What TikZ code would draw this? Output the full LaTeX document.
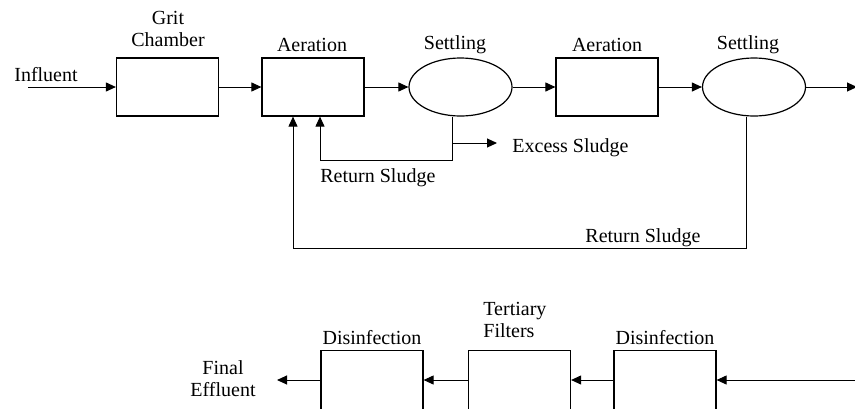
\documentclass[tikz,border=0pt]{standalone}
\usepackage{fontspec}
\setmainfont{Liberation Serif}
\usetikzlibrary{arrows.meta,shapes.geometric}
\begin{document}
\begin{tikzpicture}[x=0.5pt,y=-0.5pt,
  font=\fontsize{10}{11}\selectfont,
  proc/.style={draw,line width=0.6pt,rectangle,inner sep=0pt,minimum width=51pt,minimum height=29pt},
  settle/.style={draw,line width=0.6pt,ellipse,inner sep=0pt,minimum width=51.5pt,minimum height=29pt},
  lowbox/.style={draw,line width=0.6pt,rectangle,inner sep=0pt,minimum width=51pt,minimum height=32pt},
  arr/.style={draw,line width=0.5pt,-{Triangle[length=5pt,width=4.5pt]}},
  lbl/.style={inner sep=0pt,align=center}]
\useasboundingbox (0,0) rectangle (855,408);
\clip (0,0) rectangle (855,408);
% top row
\node[proc] (grit) at (167.5,87) {};
\node[proc] (aer1) at (313,87) {};
\node[settle] (set1) at (460.5,87) {};
\node[proc] (aer2) at (607,87) {};
\node[settle] (set2) at (754,87) {};
% labels
\node[lbl] (lgrit) at (168,29) {Grit\\Chamber};
\node[lbl] (laer1) at (312,45) {Aeration};
\node[lbl] (lset1) at (455,45) {Settling};
\node[lbl] (laer2) at (607,45) {Aeration};
\node[lbl] (lset2) at (748,45) {Settling};
\node[lbl] (linf) at (46,75) {Influent};
\node[lbl,anchor=west] (lex) at (512,148) {Excess Sludge};
\node[lbl,anchor=west] (lrs1) at (320,178) {Return Sludge};
\node[lbl,anchor=west] (lrs2) at (585,238) {Return Sludge};
% coordinates
\coordinate (in) at (28,87);
\coordinate (out) at (857,87);
\coordinate (j1) at (320,160);
\coordinate (ex) at (497,143);
\coordinate (j2) at (293,248);
% connectors top
\draw[arr] (in) -- (grit);
\draw[arr] (grit) -- (aer1);
\draw[arr] (aer1) -- (set1);
\draw[arr] (set1) -- (aer2);
\draw[arr] (aer2) -- (set2);
\draw[arr] (set2) -- (out);
\draw[arr] ([xshift=-4.25pt]set1.south) |- (j1) -- (j1 |- aer1.south);
\draw[arr] ([xshift=-4.25pt]set1.south |- ex) -- (ex);
\draw[arr] ([xshift=-4pt]set2.south) |- (j2) -- (j2 |- aer1.south);
% bottom row
\node[lowbox,anchor=north] (dis2) at (665,350) {};
\node[lowbox,anchor=north] (tert) at (519.5,350) {};
\node[lowbox,anchor=north] (dis1) at (372,350) {};
\node[lbl] (ldis2) at (665,338) {Disinfection};
\node[lbl,align=left,anchor=west] (ltert) at (483,320) {Tertiary\\Filters};
\node[lbl] (ldis1) at (372,338) {Disinfection};
\node[lbl] (lfe) at (223,379) {Final\\Effluent};
\coordinate (bin) at (857,380);
\coordinate (fe) at (277,380);
\draw[arr] (bin) -- (bin -| dis2.east);
\draw[arr] (dis2.west |- bin) -- (tert.east |- bin);
\draw[arr] (tert.west |- bin) -- (dis1.east |- bin);
\draw[arr] (dis1.west |- bin) -- (fe);
\end{tikzpicture}
\end{document}
